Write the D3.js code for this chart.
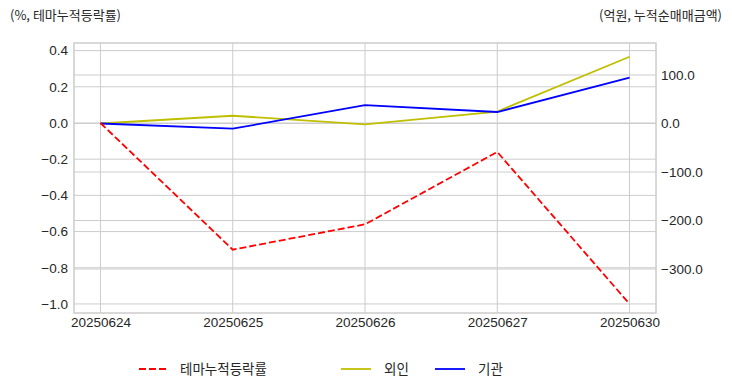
<!DOCTYPE html>
<html>
<head>
<meta charset="utf-8">
<script src="https://cdn.jsdelivr.net/npm/d3@7"></script>
<style>
  body { margin: 0; background: #fff; }
  text { font-family: "Liberation Sans", Arial, "Noto Sans CJK KR", sans-serif; fill: #262626; }
  .kr { font-family: "Noto Sans CJK KR", "Liberation Sans", sans-serif; }
</style>
</head>
<body>
<svg id="chart" width="732" height="392"></svg>
<script>
// chart data
const dates = ["20250624", "20250625", "20250626", "20250627", "20250630"];
const themeRate = [0.0, -0.70, -0.56, -0.16, -1.0];      // left axis, %
const foreign = [0.0, 16.0, -1.6, 24.7, 137.7];          // right axis, 억원
const institution = [0.0, -10.7, 38.0, 23.7, 94.4];      // right axis, 억원
const leftTicks = [0.4, 0.2, 0.0, -0.2, -0.4, -0.6, -0.8, -1.0];
const rightTicks = [100, 0, -100, -200, -300];

const svg = d3.select("#chart");
const m = { left: 74, right: 656, top: 43, bottom: 313 };

const x = d3.scaleLinear().domain([-0.2, dates.length - 1 + 0.2]).range([m.left, m.right]);
const yL = d3.scaleLinear().domain([-1.05, 0.442]).range([m.bottom, m.top]);
const yR = d3.scaleLinear().domain([-390.7, 166]).range([m.bottom, m.top]);

// grid
const grid = svg.append("g").attr("stroke", "#cccccc").attr("stroke-width", 1);
grid.selectAll(".gx").data(dates).join("line")
  .attr("x1", (d, i) => x(i)).attr("x2", (d, i) => x(i))
  .attr("y1", m.top).attr("y2", m.bottom);
grid.selectAll(".gl").data(leftTicks).join("line")
  .attr("x1", m.left).attr("x2", m.right)
  .attr("y1", (d) => yL(d)).attr("y2", (d) => yL(d));
grid.selectAll(".gr").data(rightTicks).join("line")
  .attr("x1", m.left).attr("x2", m.right)
  .attr("y1", (d) => yR(d)).attr("y2", (d) => yR(d));

// frame
svg.append("rect")
  .attr("x", m.left).attr("y", m.top)
  .attr("width", m.right - m.left).attr("height", m.bottom - m.top)
  .attr("fill", "none").attr("stroke", "#cccccc").attr("stroke-width", 1.5);

// axes (labels only, no tick marks)
const axL = svg.append("g").attr("transform", `translate(${m.left},0)`)
  .call(d3.axisLeft(yL).tickValues(leftTicks).tickFormat(d3.format(".1f")).tickSize(0).tickPadding(6));
const axR = svg.append("g").attr("transform", `translate(${m.right},0)`)
  .call(d3.axisRight(yR).tickValues(rightTicks).tickFormat(d3.format(".1f")).tickSize(0).tickPadding(5));
const axB = svg.append("g").attr("transform", `translate(0,${m.bottom})`)
  .call(d3.axisBottom(x).tickValues(d3.range(dates.length)).tickFormat((i) => dates[i]).tickSize(0).tickPadding(4));
[axL, axR, axB].forEach((ax) => {
  ax.select(".domain").remove();
  ax.selectAll("text").attr("font-size", 13.5).attr("fill", "#262626")
    .style("font-family", '"Liberation Sans", Arial, sans-serif');
});

// lines
const lineL = d3.line().x((d, i) => x(i)).y((d) => yL(d));
const lineR = d3.line().x((d, i) => x(i)).y((d) => yR(d));

svg.append("path").datum(foreign).attr("d", lineR)
  .attr("fill", "none").attr("stroke", "#bfbf00").attr("stroke-width", 1.8);
svg.append("path").datum(institution).attr("d", lineR)
  .attr("fill", "none").attr("stroke", "#0000ff").attr("stroke-width", 1.8);
svg.append("path").datum(themeRate).attr("d", lineL)
  .attr("fill", "none").attr("stroke", "#ff0000").attr("stroke-width", 1.8)
  .attr("stroke-dasharray", "7,3");

// axis titles
svg.append("text").attr("class", "kr").attr("x", 10).attr("y", 20)
  .attr("font-size", 13).text("(%, 테마누적등락률)");
svg.append("text").attr("class", "kr").attr("x", 722).attr("y", 20)
  .attr("text-anchor", "end").attr("font-size", 13).text("(억원, 누적순매매금액)");

// legend
const legend = [
  { name: "테마누적등락률", color: "#ff0000", dash: "7,3", x0: 139, x1: 167 },
  { name: "외인", color: "#bfbf00", dash: null, x0: 341, x1: 371 },
  { name: "기관", color: "#0000ff", dash: null, x0: 435, x1: 465 },
];
const lg = svg.append("g");
legend.forEach((d) => {
  lg.append("line").attr("x1", d.x0).attr("x2", d.x1).attr("y1", 369).attr("y2", 369)
    .attr("stroke", d.color).attr("stroke-width", 1.8).attr("stroke-dasharray", d.dash);
  lg.append("text").attr("class", "kr").attr("x", d.x1 + 13).attr("y", 374)
    .attr("font-size", 13.5).text(d.name);
});
</script>
</body>
</html>
